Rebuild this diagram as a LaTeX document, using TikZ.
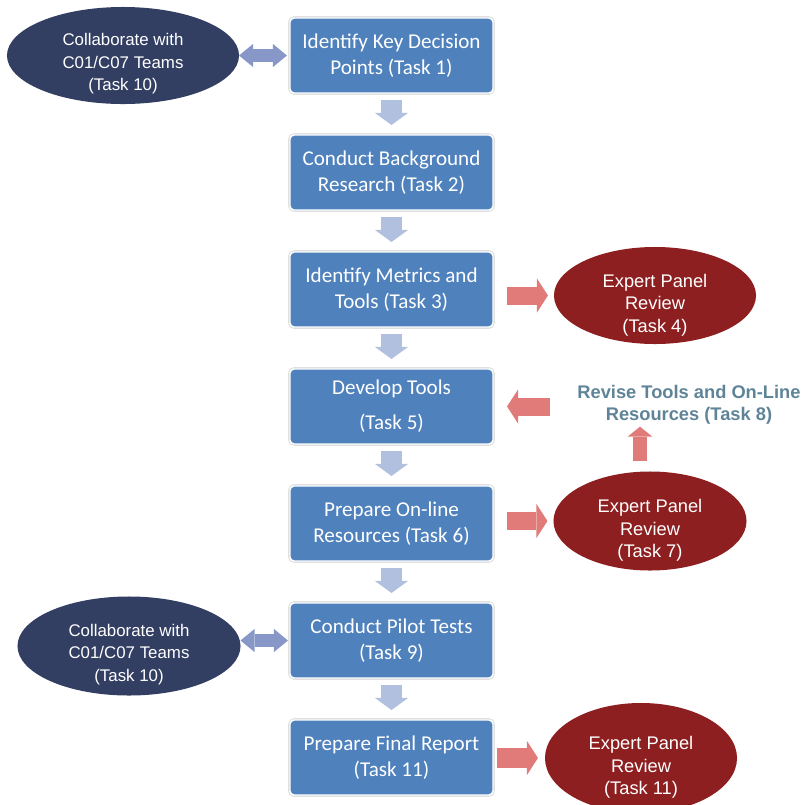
\documentclass[tikz,border=0pt]{standalone}
\usepackage{fontspec}
\setmainfont{Carlito}
\newfontfamily\arialfont{Liberation Sans}
\usetikzlibrary{shapes.geometric}
\usetikzlibrary{arrows.meta}

\definecolor{taskblue}{RGB}{79,129,189}
\definecolor{flowblue}{RGB}{176,192,222}
\definecolor{collabnavy}{RGB}{50,63,99}
\definecolor{collabarrow}{RGB}{135,151,199}
\definecolor{reviewred}{RGB}{142,31,32}
\definecolor{reviewarrow}{RGB}{224,123,122}
\definecolor{revisetext}{RGB}{95,132,151}

% ellipse text, sitting a little below the centre
\newcommand\ellipsetext[2]{\raisebox{#1}[0pt][0pt]{\begin{tabular}{@{}c@{}}#2\end{tabular}}}

\begin{document}
\begin{tikzpicture}[x=0.025cm, y=-0.025cm,
	taskbox/.style={rectangle, rounded corners=3pt, fill=taskblue, draw=white, line width=1pt,
		preaction={draw=black!12, line width=2.6pt}, outer sep=0pt,
		minimum width=5.075cm, minimum height=1.875cm, align=center, text=white,
		font=\fontsize{15}{18}\selectfont},
	collab/.style={ellipse, fill=collabnavy, inner sep=0pt, outer sep=0pt, text=white,
		font=\arialfont\fontsize{12}{16}\selectfont},
	review/.style={ellipse, fill=reviewred, inner sep=0pt, outer sep=0pt, text=white,
		font=\arialfont\fontsize{13}{16}\selectfont},
	downarrow/.style={draw=flowblue, line width=0.525cm,
		-{Triangle[length=0.3cm, width=0.825cm, line width=0pt]}},
	dblarrow/.style={draw=collabarrow, line width=0.325cm,
		{Triangle[length=0.35cm, width=0.575cm, line width=0pt]}-{Triangle[length=0.35cm, width=0.575cm, line width=0pt]}},
	redarrow/.style={draw=reviewarrow, line width=0.45cm,
		-{Triangle[length=0.275cm, width=0.85cm, line width=0pt]}}
	]
	\useasboundingbox (0,0) rectangle (801,805);

	\def\x{391.5}

	% main column of tasks
	\foreach \txt [count=\i] in {{Identify Key Decision\\Points (Task 1)},
		{Conduct Background\\Research (Task 2)},
		{Identify Metrics and\\Tools (Task 3)},
		{Develop Tools\\[7pt](Task 5)},
		{Prepare On-line\\Resources (Task 6)},
		{Conduct Pilot Tests\\(Task 9)},
		{Prepare Final Report\\(Task 11)}}
	{
		\pgfmathparse{55.5 + 117*(\i-1)}
		\xdef\y{\pgfmathresult}
		\node [taskbox] at (\x,\y) (task\i){\txt};
	}
	\foreach \i [count=\j from 2] in {1,...,6}
	{
		\draw [downarrow, shorten <=0.175cm, shorten >=0.25cm] (task\i) -- (task\j);
	}

	% collaboration with other teams
	\node [collab, minimum width=5.8cm, minimum height=2.425cm] at (123,55.5) (collab_top){\ellipsetext{-9pt}{Collaborate with\\C01/C07 Teams\\(Task 10)}};
	\node [collab, minimum width=5.575cm, minimum height=2.475cm] at (129,646) (collab_pilot){\ellipsetext{-9pt}{Collaborate with\\C01/C07 Teams\\(Task 10)}};
	\draw [dblarrow, shorten >=0.075cm] (collab_top) -- (task1);
	\draw [dblarrow, shorten >=0.05cm] (task6.west -| collab_pilot.east) -- (task6.west);

	% expert panel reviews
	\node [review, minimum width=5.05cm, minimum height=2.425cm] at (655,295.5) (review_metrics){\ellipsetext{-10pt}{Expert Panel\\Review\\(Task 4)}};
	\node [review, minimum width=4.825cm, minimum height=2.475cm] at (650,521) (review_online){\ellipsetext{-10pt}{Expert Panel\\Review\\(Task 7)}};
	\node [review, minimum width=4.8cm, minimum height=2.75cm] at (641,758) (review_final){\ellipsetext{-10pt}{Expert Panel\\Review\\(Task 11)}};
	\draw [redarrow, shorten <=0.35cm, shorten >=0.15cm] (task3.east |- review_metrics) -- (review_metrics.west);
	\draw [redarrow, shorten <=0.35cm, shorten >=0.15cm] (task5.east |- review_online) -- (review_online.west);
	\draw [redarrow, line width=0.5cm, shorten <=0.1cm, shorten >=0.175cm] (task7.east |- review_final) -- (review_final.west);

	% revision loop
	\node [inner sep=0pt, align=center, text=revisetext, font=\arialfont\bfseries\fontsize{13}{15.5}\selectfont] at (689,405) (revise){Revise Tools and On-Line\\Resources (Task 8)};
	\draw [redarrow, shorten <=0.675cm, shorten >=0.35cm] (revise.west |- task4.east) -- (task4.east);
	\draw [redarrow, line width=0.325cm, -{Triangle[length=0.25cm, width=0.625cm, line width=0pt]}, shorten <=0.25cm, shorten >=0.05cm]
		([xshift=-0.25cm]review_online.north) -- ([xshift=-0.25cm]review_online.north |- revise.south);

\end{tikzpicture}
\end{document}
